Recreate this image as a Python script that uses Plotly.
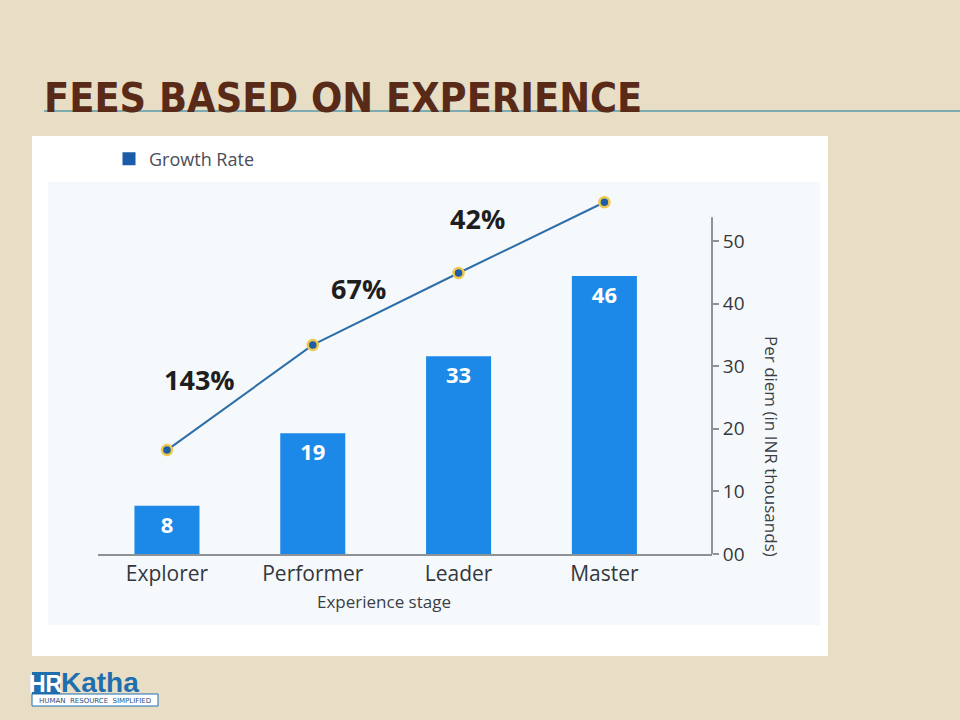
import plotly.graph_objects as go

# ---------------- data ----------------
stages = ["Explorer", "Performer", "Leader", "Master"]
bar_heights = [7.7, 19.3, 31.6, 44.4]          # per diem bars
bar_labels = ["8", "19", "33", "46"]            # printed values on the bars
line_values = [16.6, 33.4, 44.9, 56.2]          # growth line points
growth_labels = ["143%", "67%", "42%"]
y_tick_vals = [0, 10, 20, 30, 40, 50]
y_tick_text = ["00", "10", "20", "30", "40", "50"]

# ---------------- layout geometry (pixels) ----------------
W, H = 960, 720
PL, PR, PT, PB = 98, 712, 191, 554      # plot area edges in px
YMAX = 58.0
XR = [-0.473, 3.738]


def px(x):
    return (x - PL) / (PR - PL)


def py(y):
    return (PB - y) / (PB - PT)


BG = "#e8dec6"
font_chart = "'Open Sans', 'Noto Sans', sans-serif"

fig = go.Figure()

fig.add_trace(go.Bar(
    x=stages, y=bar_heights, text=bar_labels,
    textposition="inside", insidetextanchor="end",
    textfont=dict(family=font_chart, size=22, color="white", weight="bold"),
    marker=dict(color="#1c88e8", line=dict(width=0)),
    width=0.446, showlegend=False, hoverinfo="skip",
))

fig.add_trace(go.Scatter(
    x=stages, y=line_values, mode="lines+markers",
    line=dict(color="#2e6ea8", width=2),
    marker=dict(size=10, color="#1d5ea6", line=dict(color="#f0c84e", width=2.5)),
    cliponaxis=False, showlegend=False, hoverinfo="skip",
))

# legend entry
fig.add_trace(go.Scatter(
    x=[None], y=[None], mode="markers", name="Growth Rate",
    marker=dict(symbol="square", size=13, color="#1b5ca8"),
    showlegend=True,
))

shapes = []
# white card
shapes.append(dict(type="rect", xref="paper", yref="paper",
                   x0=px(32), x1=px(828), y0=py(656), y1=py(136),
                   fillcolor="white", line=dict(width=0), layer="below"))
# light inner plot panel
shapes.append(dict(type="rect", xref="paper", yref="paper",
                   x0=px(48), x1=px(820), y0=py(625), y1=py(182),
                   fillcolor="#f6f9fb", line=dict(width=0), layer="below"))
# title underline
shapes.append(dict(type="line", xref="paper", yref="paper",
                   x0=px(44), x1=px(960), y0=py(111), y1=py(111),
                   line=dict(color="#5b98aa", width=1.5)))
# vertical axis line (stops below the top of plot)
shapes.append(dict(type="line", xref="paper", yref="y",
                   x0=1, x1=1, y0=0, y1=53.8,
                   line=dict(color="#8d9296", width=2)))
# logo
shapes.append(dict(type="rect", xref="paper", yref="paper",
                   x0=px(32), x1=px(60), y0=py(694), y1=py(672),
                   fillcolor="#1f6fae", line=dict(width=0)))
shapes.append(dict(type="rect", xref="paper", yref="paper",
                   x0=px(32), x1=px(158), y0=py(706), y1=py(694),
                   fillcolor="white", line=dict(color="#1f6fae", width=1)))


def ann(text, x, y, size, color, family=font_chart, xanchor="center",
        yanchor="middle", weight="normal", textangle=0, xref="paper", yref="paper",
        xshift=0, yshift=0):
    return dict(text=text, xref=xref, yref=yref, x=x, y=y, xanchor=xanchor,
                yanchor=yanchor, showarrow=False, textangle=textangle,
                xshift=xshift, yshift=yshift,
                font=dict(family=family, size=size, color=color, weight=weight))


annotations = []
annotations.append(ann("FEES BASED ON EXPERIENCE", px(42), py(124), 41, "#5a2a18",
                       family="'Liberation Sans Narrow', 'DejaVu Sans Condensed', 'Arial Narrow', sans-serif",
                       xanchor="left", yanchor="bottom", weight="bold"))

# growth-rate labels, placed near the middle of each line segment
shifts = [(-40, 18), (-27, 20), (-54, 19)]
for i, lab in enumerate(growth_labels):
    annotations.append(ann(lab, i + 0.5, (line_values[i] + line_values[i + 1]) / 2,
                           27, "#1e1e1e", weight="bold", xref="x", yref="y",
                           xshift=shifts[i][0], yshift=shifts[i][1]))

annotations.append(ann("Experience stage", px(384), py(601), 17, "#3a3f45"))
annotations.append(ann("Per diem (in INR thousands)", px(772), py(446), 17, "#3a3f45",
                       textangle=90))

# logo text
annotations.append(ann("HR", px(46), py(683.5), 23, "white",
                       family="'Liberation Sans', sans-serif", weight="bold"))
annotations.append(ann("Katha", px(59), py(682), 28, "#1f6fae",
                       family="'Liberation Sans', sans-serif", weight="bold",
                       xanchor="left", yanchor="middle"))
annotations.append(ann("HUMAN  RESOURCE  SIMPLIFIED", px(95), py(701), 7, "#1f4f86",
                       family="'DejaVu Sans', sans-serif"))

fig.update_layout(
    width=W, height=H,
    margin=dict(l=PL, r=W - PR, t=PT, b=H - PB, pad=0),
    paper_bgcolor=BG, plot_bgcolor="rgba(0,0,0,0)",
    shapes=shapes, annotations=annotations,
    showlegend=True,
    legend=dict(x=px(109), y=py(159), xanchor="left", yanchor="middle",
                bgcolor="rgba(0,0,0,0)", borderwidth=0,
                font=dict(family=font_chart, size=18, color="#4a4d5a"),
                itemwidth=30),
    xaxis=dict(range=XR, showgrid=False, zeroline=False,
               showline=True, linecolor="#8d9296", linewidth=2,
               ticks="", tickfont=dict(family=font_chart, size=21, color="#33383e"),
               fixedrange=True),
    yaxis=dict(range=[0, YMAX], side="right", showgrid=False, zeroline=False,
               showline=False, ticks="outside", ticklen=6, tickwidth=1.5,
               tickcolor="#8d9296", tickvals=y_tick_vals, ticktext=y_tick_text,
               tickfont=dict(family=font_chart, size=19, color="#33383e"),
               fixedrange=True),
)

fig.write_html("out.html")
